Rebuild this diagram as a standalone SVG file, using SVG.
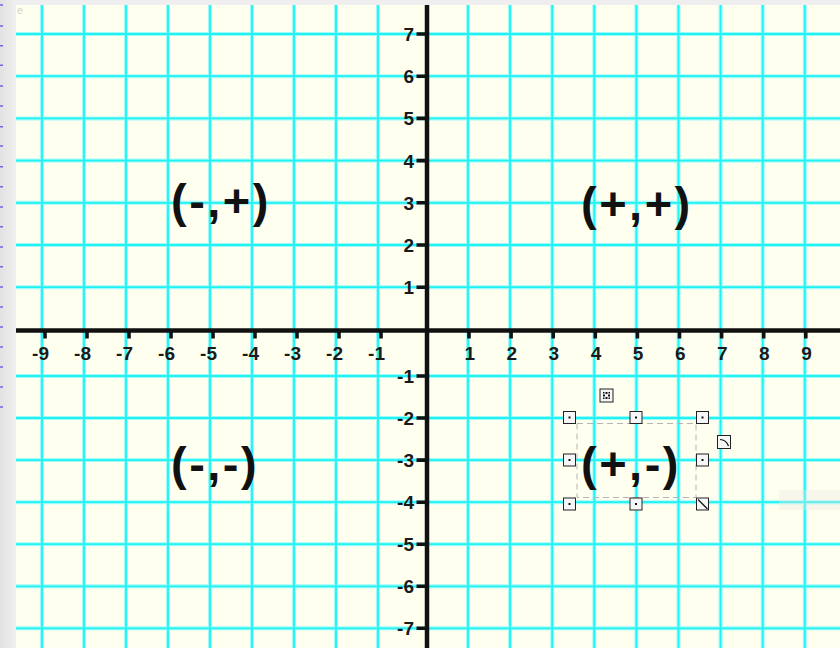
<svg xmlns="http://www.w3.org/2000/svg" width="840" height="648" viewBox="0 0 840 648">
  <defs>
    <style>
      .halo { stroke: #9ffafa; stroke-width: 4; fill: none; }
      .grid { stroke: #22f2f2; stroke-width: 1.8; fill: none; }
      .axis { stroke: #111; stroke-width: 4.5; fill: none; }
      .tick { stroke: #111; stroke-width: 3.6; fill: none; }
      .num { font-family: "Liberation Sans", Arial, sans-serif; font-weight: bold; font-size: 19px; fill: #1a1a1a; }
      .quad { font-family: "Liberation Sans", Arial, sans-serif; font-weight: bold; font-size: 47px; fill: #111; letter-spacing: 2.5px; }
      .handle { fill: #f6f6f6; stroke: #222; stroke-width: 1; }
      .dot { fill: #111; }
    </style>
    <linearGradient id="strip" x1="0" y1="0" x2="1" y2="0">
      <stop offset="0" stop-color="#e2e2e2"/>
      <stop offset="1" stop-color="#f0f0f0"/>
    </linearGradient>
    <path id="vlines" d="M42 5V648M84 5V648M126 5V648M168 5V648M210 5V648M252 5V648M294 5V648M336 5V648M378 5V648M468 5V648M510.1 5V648M552.2 5V648M594.3 5V648M636.4 5V648M678.5 5V648M720.6 5V648M762.7 5V648M804.8 5V648"/>
    <path id="hlines" d="M16 34H840M16 76.2H840M16 118.4H840M16 160.6H840M16 202.8H840M16 245H840M16 287.2H840M16 376H840M16 418H840M16 460.1H840M16 502.2H840M16 544.2H840M16 586.3H840M16 628.3H840"/>
  </defs>

  <!-- background -->
  <rect x="0" y="0" width="840" height="648" fill="#eeeeee"/>
  <rect x="0" y="0" width="16" height="648" fill="url(#strip)"/>
  <rect x="16" y="5" width="824" height="643" fill="#fffff0"/>
  <path d="M0 5h3M0 26h3M0 45.7h3M0 65.3h3M0 86h3M0 106h3M0 126.7h3M0 146h3M0 166.7h3M0 186.7h3M0 207h3M0 226.7h3M0 247h3M0 266.7h3M0 287h3M0 307h3M0 327h3M0 347h3M0 367h3M0 387h3M0 407h3" stroke="#6a6ade" stroke-width="1.5"/>
  <text x="17" y="14" font-family="Liberation Sans, Arial, sans-serif" font-size="11" fill="#d4d4cc">e</text>

  <!-- grid -->
  <g id="grid">
    <use href="#vlines" class="halo"/>
    <use href="#hlines" class="halo"/>
    <use href="#vlines" class="grid"/>
    <use href="#hlines" class="grid"/>
  </g>

  <!-- axes -->
  <g id="axes">
    <path class="axis" d="M16 330.5H840"/>
    <path class="axis" d="M427 5V648"/>
    <path class="tick" d="M45 332V338.5M87 332V338.5M129 332V338.5M171 332V338.5M213 332V338.5M255 332V338.5M297 332V338.5M339 332V338.5M381 332V338.5M469 332V338.5M511.1 332V338.5M553.2 332V338.5M595.3 332V338.5M637.4 332V338.5M679.5 332V338.5M721.6 332V338.5M763.7 332V338.5M805.8 332V338.5"/>
    <path class="tick" d="M416.5 34H426M416.5 76.2H426M416.5 118.4H426M416.5 160.6H426M416.5 202.8H426M416.5 245H426M416.5 287.2H426M416.5 376H426M416.5 418H426M416.5 460.1H426M416.5 502.2H426M416.5 544.2H426M416.5 586.3H426M416.5 628.3H426"/>
  </g>

  <!-- axis labels -->
  <g id="x-labels" class="num" text-anchor="end">
    <text x="49" y="360">-9</text>
    <text x="91" y="360">-8</text>
    <text x="133" y="360">-7</text>
    <text x="175" y="360">-6</text>
    <text x="217" y="360">-5</text>
    <text x="259" y="360">-4</text>
    <text x="301" y="360">-3</text>
    <text x="343" y="360">-2</text>
    <text x="385" y="360">-1</text>
    <text x="475" y="360">1</text>
    <text x="517.1" y="360">2</text>
    <text x="559.2" y="360">3</text>
    <text x="601.3" y="360">4</text>
    <text x="643.4" y="360">5</text>
    <text x="685.5" y="360">6</text>
    <text x="727.6" y="360">7</text>
    <text x="769.7" y="360">8</text>
    <text x="811.8" y="360">9</text>
  </g>
  <g id="y-labels" class="num" text-anchor="end">
    <text x="414" y="41">7</text>
    <text x="414" y="83.2">6</text>
    <text x="414" y="125.4">5</text>
    <text x="414" y="167.6">4</text>
    <text x="414" y="209.8">3</text>
    <text x="414" y="252">2</text>
    <text x="414" y="294.2">1</text>
    <text x="414" y="383">-1</text>
    <text x="414" y="425">-2</text>
    <text x="414" y="467.1">-3</text>
    <text x="414" y="509.2">-4</text>
    <text x="414" y="551.2">-5</text>
    <text x="414" y="593.3">-6</text>
    <text x="414" y="635.3">-7</text>
  </g>

  <!-- quadrant labels -->
  <g id="q2"><text class="quad" x="171" y="217">(-,+)</text></g>
  <g id="q1"><text class="quad" x="581" y="220">(+,+)</text></g>
  <g id="q3"><text class="quad" x="171" y="480">(-,-)</text></g>
  <g id="q4"><text class="quad" x="581" y="480">(+,-)</text></g>

  <!-- selection handles around (+,-) -->
  <g id="selection">
    <rect x="577" y="423.5" width="119" height="74" fill="none" stroke="#b4b4b4" stroke-width="1" stroke-dasharray="6 4"/>
    <g>
      <rect class="handle" x="563.5" y="411.5" width="12" height="12"/>
      <rect class="handle" x="630" y="411.5" width="12" height="12"/>
      <rect class="handle" x="696.5" y="411.5" width="12" height="12"/>
      <rect class="handle" x="563.5" y="454" width="12" height="12"/>
      <rect class="handle" x="696.5" y="454" width="12" height="12"/>
      <rect class="handle" x="563.5" y="498" width="12" height="12"/>
      <rect class="handle" x="630" y="498" width="12" height="12"/>
      <rect class="handle" x="696.5" y="498" width="12" height="12"/>
      <rect class="dot" x="568.5" y="416.5" width="2" height="2"/>
      <rect class="dot" x="635" y="416.5" width="2" height="2"/>
      <rect class="dot" x="701.5" y="416.5" width="2" height="2"/>
      <rect class="dot" x="568.5" y="459" width="2" height="2"/>
      <rect class="dot" x="701.5" y="459" width="2" height="2"/>
      <rect class="dot" x="568.5" y="503" width="2" height="2"/>
      <rect class="dot" x="635" y="503" width="2" height="2"/>
      <path d="M698 499.5L707.5 509" stroke="#111" stroke-width="1.2"/>
    </g>
    <g id="rotate-handle">
      <rect class="handle" x="600" y="389" width="13" height="13"/>
      <rect class="dot" x="605.5" y="392" width="2" height="2"/>
      <rect class="dot" x="605.5" y="397" width="2" height="2"/>
      <rect class="dot" x="603" y="394.5" width="2" height="2"/>
      <rect class="dot" x="608" y="394.5" width="2" height="2"/>
      <rect class="dot" x="603" y="392" width="1.5" height="1.5"/>
      <rect class="dot" x="608.5" y="392" width="1.5" height="1.5"/>
      <rect class="dot" x="603" y="397.5" width="1.5" height="1.5"/>
      <rect class="dot" x="608.5" y="397.5" width="1.5" height="1.5"/>
    </g>
    <g id="curve-handle">
      <rect class="handle" x="717.5" y="435.5" width="13" height="13"/>
      <path d="M720 439.5Q726 439.5 728.5 446" fill="none" stroke="#111" stroke-width="1.2"/>
    </g>
  </g>

  <!-- faint ghost box at right -->
  <rect x="779" y="490" width="61" height="20" fill="#e6e6e0" opacity="0.35"/>
</svg>
